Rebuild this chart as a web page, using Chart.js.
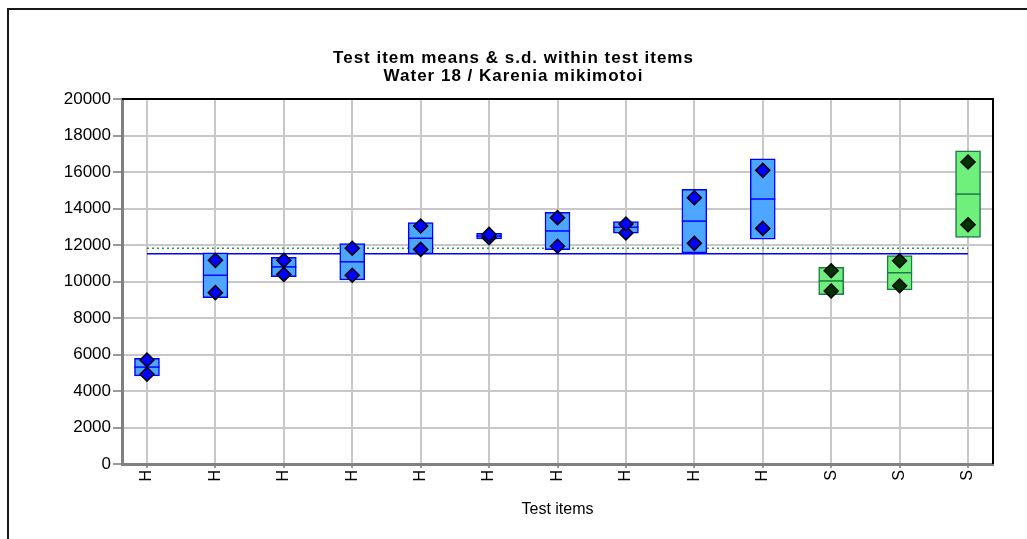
<!DOCTYPE html>
<html>
<head>
<meta charset="utf-8">
<script src="https://cdn.jsdelivr.net/npm/chart.js@4/dist/chart.umd.min.js"></script>
<style>
  html, body { margin: 0; padding: 0; background: #fff; }
  #wrap { position: relative; width: 1027px; height: 539px; overflow: hidden; }
  #frame { position: absolute; left: 7px; top: 8px; width: 1100px; height: 600px;
           border-left: 2px solid #1a1a1a; border-top: 2px solid #1a1a1a; }
  canvas { position: absolute; left: 0; top: 0; }
</style>
</head>
<body>
<div id="wrap">
  <div id="frame"></div>
  <canvas id="chart" width="1027" height="539"></canvas>
</div>
<script>
// test items
const items = ["H", "H", "H", "H", "H", "H", "H", "H", "H", "H", "S", "S", "S"];
const means = [5310, 10340, 10800, 11080, 12370, 12490, 12770, 12970, 13310, 14520, 10030, 10480, 14790];
const sds = [485, 1225, 530, 995, 860, 150, 1020, 320, 1745, 2200, 750, 940, 2370];
const upperPoints = [5700, 11160, 11160, 11820, 13040, 12580, 13500, 13150, 14590, 16090, 10590, 11140, 16550];
const lowerPoints = [4920, 9390, 10390, 10340, 11760, 12400, 11930, 12660, 12090, 12910, 9480, 9770, 13110];
const assignedValue = 11520; // solid blue line
const robustMean = 11820;    // dotted green line
const yTicks = [0, 2000, 4000, 6000, 8000, 10000, 12000, 14000, 16000, 18000, 20000];

const boxFill = items.map(t => (t === "H" ? "#4da6ff" : "#6ff07c"));
const boxLine = items.map(t => (t === "H" ? "#0000ff" : "#1f7a45"));
const dotFill = items.map(t => (t === "H" ? "#0000ff" : "#003300"));

const FONT = "Liberation Sans, Arial, sans-serif";

// top + right frame of the plot area, and a little letter spacing for the title
const plotFrame = {
  id: "plotFrame",
  afterDatasetsDraw(chart) {
    chart.ctx.letterSpacing = "1px";
  },
  afterDraw(chart) {
    const { ctx, chartArea: a } = chart;
    ctx.letterSpacing = "0px";
    ctx.save();
    ctx.strokeStyle = "#000";
    ctx.lineWidth = 2;
    ctx.beginPath();
    ctx.moveTo(a.left, a.top);
    ctx.lineTo(a.right, a.top);
    ctx.lineTo(a.right, a.bottom);
    ctx.stroke();
    ctx.restore();
  },
};

const ctx = document.getElementById("chart");
const chart = new Chart(ctx, {
  type: "bar",
  data: {
    datasets: [
      {
        type: "scatter",
        order: 0,
        data: upperPoints.map((v, i) => ({ x: i, y: v })),
        pointStyle: "rectRot",
        pointRadius: 7,
        pointHoverRadius: 7,
        backgroundColor: dotFill,
        borderColor: "#000",
        borderWidth: 1.5,
      },
      {
        type: "scatter",
        order: 0,
        data: lowerPoints.map((v, i) => ({ x: i, y: v })),
        pointStyle: "rectRot",
        pointRadius: 7,
        pointHoverRadius: 7,
        backgroundColor: dotFill,
        borderColor: "#000",
        borderWidth: 1.5,
      },
      {
        type: "scatter",
        order: 1,
        data: means.map((v, i) => ({ x: i, y: v })),
        pointStyle: "line",
        pointRadius: 12.5,
        pointHoverRadius: 12.5,
        borderColor: boxLine,
        borderWidth: 1.5,
      },
      {
        type: "bar",
        order: 2,
        data: means.map((m, i) => ({ x: i, y: [m - sds[i], m + sds[i]] })),
        backgroundColor: boxFill,
        borderColor: boxLine,
        borderWidth: 1.5,
        borderSkipped: false,
        barThickness: 25,
      },
      {
        type: "line",
        order: 3,
        data: [{ x: 0, y: assignedValue }, { x: items.length - 1, y: assignedValue }],
        borderColor: "#0000ff",
        borderWidth: 1.5,
        pointRadius: 0,
      },
      {
        type: "line",
        order: 3,
        data: [{ x: 0, y: robustMean }, { x: items.length - 1, y: robustMean }],
        borderColor: "#1e9a4a",
        borderWidth: 1.5,
        borderDash: [2, 3],
        pointRadius: 0,
      },
    ],
  },
  options: {
    responsive: false,
    animation: false,
    layout: { padding: 0 },
    plugins: {
      legend: { display: false },
      tooltip: { enabled: false },
      title: {
        display: true,
        position: "top",
        text: ["Test item means & s.d. within test items", "Water 18 / Karenia mikimotoi"],
        color: "#000",
        font: { family: FONT, size: 17, weight: "bold", lineHeight: 1.1 },
        padding: { top: 48.6, bottom: 13 },
      },
    },
    scales: {
      x: {
        type: "linear",
        min: -0.365,
        max: items.length - 1 + 0.365,
        offset: false,
        afterBuildTicks: (scale) => {
          scale.ticks = items.map((_, i) => ({ value: i }));
        },
        afterFit: (scale) => { scale.height = 539 - 464; },
        ticks: {
          callback: (v) => items[v],
          minRotation: 90,
          maxRotation: 90,
          color: "#000",
          padding: 2,
          font: { family: FONT, size: 16 },
        },
        grid: { color: "#c8c8c8", lineWidth: 2, tickLength: 4, tickColor: "#999", offset: false },
        border: { color: "#808080", width: 3 },
        title: {
          display: true,
          text: "Test items",
          color: "#000",
          padding: { top: 0, bottom: 20 },
          font: { family: FONT, size: 16 },
        },
      },
      y: {
        min: 0,
        max: 20000,
        afterBuildTicks: (scale) => {
          scale.ticks = yTicks.map((v) => ({ value: v }));
        },
        afterFit: (scale) => { scale.width = 122; },
        ticks: {
          callback: (v) => String(v),
          color: "#000",
          padding: 2,
          font: { family: FONT, size: 17 },
        },
        grid: { color: "#c8c8c8", lineWidth: 2, tickLength: 9, tickColor: "#999" },
        border: { color: "#808080", width: 3 },
      },
      // empty strip on the right of the plot
      yRight: {
        position: "right",
        display: true,
        ticks: { display: false },
        grid: { display: false, drawTicks: false },
        border: { display: false },
        afterFit: (scale) => { scale.width = 34; },
      },
    },
  },
  plugins: [plotFrame],
});
// draw the title after the data so the letter spacing only touches it
const tb = chart.titleBlock;
tb._layers = () => [{ z: 1, draw: (area) => tb.draw(area) }];
chart.update();
</script>
</body>
</html>
